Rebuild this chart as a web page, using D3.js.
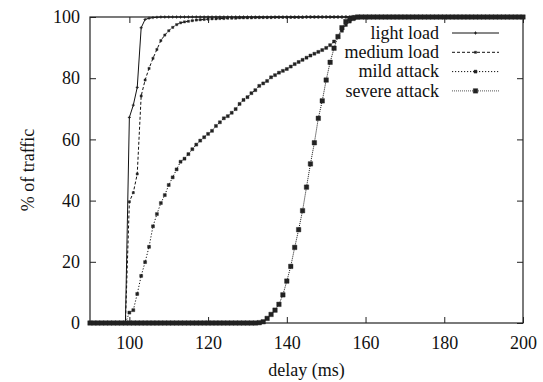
<!DOCTYPE html>
<html>
<head>
<meta charset="utf-8">
<script src="https://cdn.jsdelivr.net/npm/d3@7"></script>
<style>
  body { margin: 0; background: #fff; }
  svg text { font-family: "Liberation Serif", "Times New Roman", "DejaVu Serif", serif; }
  .axis path { display: none; }
  .axis line { stroke: #222; }
  .axis text { font-size: 18px; fill: #111; }
</style>
</head>
<body>
<svg width="543" height="382"></svg>
<script>
// delay grid in ms, one sample per ms
const delays = d3.range(90, 201);

const seriesNames = ['light load', 'medium load', 'mild attack', 'severe attack'];

const lightLoad = [
  0, 0, 0, 0, 0, 0, 0, 0, 0, 0,
  67.2, 71.2, 77, 96.5, 99.2, 99.6, 99.8, 99.9, 100, 100,
  100, 100, 100, 100, 100, 100, 100, 100, 100, 100,
  100, 100, 100, 100, 100, 100, 100, 100, 100, 100,
  100, 100, 100, 100, 100, 100, 100, 100, 100, 100,
  100, 100, 100, 100, 100, 100, 100, 100, 100, 100,
  100, 100, 100, 100, 100, 100, 100, 100, 100, 100,
  100, 100, 100, 100, 100, 100, 100, 100, 100, 100,
  100, 100, 100, 100, 100, 100, 100, 100, 100, 100,
  100, 100, 100, 100, 100, 100, 100, 100, 100, 100,
  100, 100, 100, 100, 100, 100, 100, 100, 100, 100,
  100
];

const mediumLoad = [
  0, 0, 0, 0, 0, 0, 0, 0, 0, 0,
  39.6, 42.6, 48.7, 74.2, 79.4, 83.2, 86.5, 89.4, 92.3, 94.1,
  95.5, 96.6, 97.5, 98.1, 98.4, 98.6, 98.8, 99, 99.1, 99.2,
  99.3, 99.4, 99.4, 99.5, 99.5, 99.6, 99.6, 99.6, 99.7, 99.7,
  99.7, 99.7, 99.8, 99.8, 99.8, 99.8, 99.8, 99.9, 99.9, 99.9,
  99.9, 99.9, 99.9, 99.9, 99.9, 100, 100, 100, 100, 100,
  100, 100, 100, 100, 100, 100, 100, 100, 100, 100,
  100, 100, 100, 100, 100, 100, 100, 100, 100, 100,
  100, 100, 100, 100, 100, 100, 100, 100, 100, 100,
  100, 100, 100, 100, 100, 100, 100, 100, 100, 100,
  100, 100, 100, 100, 100, 100, 100, 100, 100, 100,
  100
];

const mildAttack = [
  0, 0, 0, 0, 0, 0, 0, 0, 0, 0,
  3.4, 4.2, 9.5, 15.4, 19.9, 24.9, 31.6, 35.6, 39.2, 41.8,
  45.1, 47.6, 50.2, 52.7, 53.7, 55.2, 56.8, 58.3, 59.6, 60.7,
  61.8, 62.8, 64.4, 65.6, 66.9, 67.6, 68.7, 69.9, 71.6, 72.9,
  73.8, 75.1, 76.1, 77.5, 78.3, 79.1, 80.3, 81, 81.8, 82.4,
  83, 83.8, 84.6, 85.3, 86, 86.7, 87.4, 88, 88.6, 89.2,
  89.9, 90.8, 92, 93.6, 95.5, 97.4, 98.5, 99.3, 99.8, 100,
  100, 100, 100, 100, 100, 100, 100, 100, 100, 100,
  100, 100, 100, 100, 100, 100, 100, 100, 100, 100,
  100, 100, 100, 100, 100, 100, 100, 100, 100, 100,
  100, 100, 100, 100, 100, 100, 100, 100, 100, 100,
  100
];

const severeAttack = [
  0, 0, 0, 0, 0, 0, 0, 0, 0, 0,
  0, 0, 0, 0, 0, 0, 0, 0, 0, 0,
  0, 0, 0, 0, 0, 0, 0, 0, 0, 0,
  0, 0, 0, 0, 0, 0, 0, 0, 0, 0,
  0, 0, 0, 0.1, 0.4, 1.5, 2.8, 4.2, 6.1, 9.2,
  13.7, 18.5, 24.7, 30.5, 36.7, 44.4, 52, 58.9, 66.9, 72.6,
  79.4, 85.2, 89.8, 93.6, 96.5, 98.5, 99.4, 99.8, 100, 100,
  100, 100, 100, 100, 100, 100, 100, 100, 100, 100,
  100, 100, 100, 100, 100, 100, 100, 100, 100, 100,
  100, 100, 100, 100, 100, 100, 100, 100, 100, 100,
  100, 100, 100, 100, 100, 100, 100, 100, 100, 100,
  100
];

const xTicks = [100, 120, 140, 160, 180, 200];
const yTicks = [0, 20, 40, 60, 80, 100];

const svg = d3.select('svg');
const plotLeft = 90, plotRight = 523, plotTop = 17, plotBottom = 323;
const serif = '"Liberation Serif", "Times New Roman", "DejaVu Serif", serif';

const x = d3.scaleLinear().domain([90, 200]).range([plotLeft, plotRight]);
const y = d3.scaleLinear().domain([0, 100]).range([plotBottom, plotTop]);

// line style and marker per series
const styles = [
  { dash: null,      marker: 'plus',   size: 3 },
  { dash: '3,2',     marker: 'square', size: 2.2 },
  { dash: '1.2,1.8', marker: 'square', size: 3 },
  { dash: '1,1',     marker: 'square', size: 4.5 }
];
const allSeries = [lightLoad, mediumLoad, mildAttack, severeAttack];

function markerPath(type, s) {
  const h = s / 2;
  if (type === 'plus') return `M${-h},0H${h}M0,${-h}V${h}`;
  return `M${-h},${-h}H${h}V${h}H${-h}Z`;
}

// axes with inward ticks on all four sides
svg.append('g').attr('class', 'axis')
    .attr('transform', `translate(${plotLeft},0)`)
    .call(d3.axisLeft(y).tickValues(yTicks).tickSize(-6).tickPadding(10))
    .attr('font-family', serif);
svg.append('g').attr('class', 'axis')
    .attr('transform', `translate(${plotRight},0)`)
    .call(d3.axisRight(y).tickValues(yTicks).tickSize(-6).tickFormat(''));
svg.append('g').attr('class', 'axis')
    .attr('transform', `translate(0,${plotBottom})`)
    .call(d3.axisBottom(x).tickValues(xTicks).tickSize(-6).tickPadding(13))
    .attr('font-family', serif);
svg.append('g').attr('class', 'axis')
    .attr('transform', `translate(0,${plotTop})`)
    .call(d3.axisTop(x).tickValues(xTicks).tickSize(-6).tickFormat(''));

svg.append('rect')
    .attr('x', plotLeft).attr('y', plotTop)
    .attr('width', plotRight - plotLeft).attr('height', plotBottom - plotTop)
    .attr('fill', 'none').attr('stroke', '#222').attr('stroke-width', 1.2);

const line = d3.line()
    .x((d, i) => x(delays[i]))
    .y(d => y(d));

allSeries.forEach(function(values, k) {
  const st = styles[k];
  const g = svg.append('g');
  g.append('path')
      .datum(values)
      .attr('d', line)
      .attr('fill', 'none')
      .attr('stroke', '#111')
      .attr('stroke-width', 1)
      .attr('stroke-dasharray', st.dash);
  g.selectAll('path.pt')
    .data(values)
    .enter().append('path')
      .attr('class', 'pt')
      .attr('transform', (d, i) => `translate(${x(delays[i])},${y(d)})`)
      .attr('d', markerPath(st.marker, st.size))
      .attr('fill', st.marker === 'square' ? '#222' : 'none')
      .attr('stroke', '#222')
      .attr('stroke-width', st.marker === 'square' ? 0.4 : 1);
});

// legend
const legend = svg.append('g');
seriesNames.forEach(function(name, k) {
  const st = styles[k];
  const ly = 33 + k * 19.3;
  legend.append('text')
      .attr('x', 439).attr('y', ly)
      .attr('dy', '0.32em')
      .attr('text-anchor', 'end')
      .attr('font-family', serif)
      .attr('font-size', 18)
      .attr('fill', '#111')
      .text(name);
  legend.append('line')
      .attr('x1', 452).attr('x2', 499)
      .attr('y1', ly).attr('y2', ly)
      .attr('stroke', k === 3 ? '#555' : '#111')
      .attr('stroke-width', 1)
      .attr('stroke-dasharray', st.dash);
  legend.append('path')
      .attr('transform', `translate(475.5,${ly})`)
      .attr('d', markerPath(st.marker, st.size))
      .attr('fill', st.marker === 'square' ? '#222' : 'none')
      .attr('stroke', '#222')
      .attr('stroke-width', st.marker === 'square' ? 0.4 : 1);
});

// axis titles
svg.append('text')
    .attr('x', (plotLeft + plotRight) / 2).attr('y', 370)
    .attr('dy', '0.32em')
    .attr('text-anchor', 'middle')
    .attr('font-family', serif)
    .attr('font-size', 18)
    .attr('fill', '#111')
    .text('delay (ms)');
svg.append('text')
    .attr('transform', 'translate(28,170) rotate(-90)')
    .attr('dy', '0.32em')
    .attr('text-anchor', 'middle')
    .attr('font-family', serif)
    .attr('font-size', 18)
    .attr('fill', '#111')
    .text('% of traffic');
</script>
</body>
</html>
